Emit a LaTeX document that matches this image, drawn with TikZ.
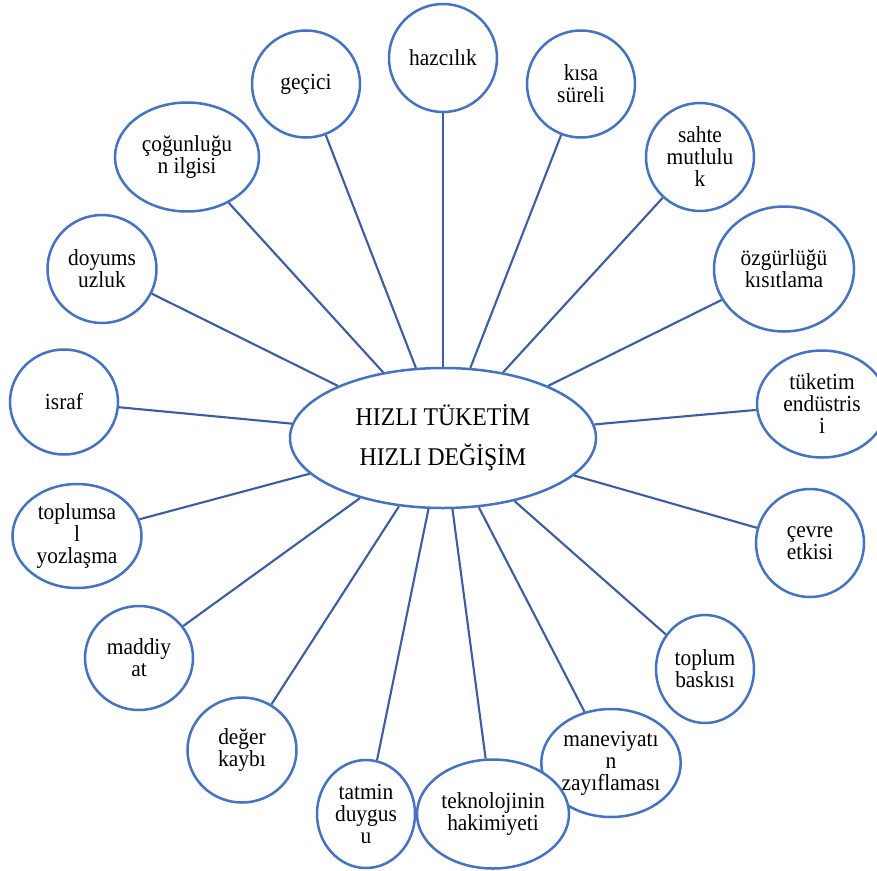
\documentclass[tikz,border=0pt]{standalone}
\usepackage{fontspec}
\setmainfont{Liberation Serif}
\newfontfamily\labelfont[FakeStretch=0.93]{Liberation Serif}
\usetikzlibrary{shapes.geometric}
\definecolor{rim}{HTML}{4472C4}
\definecolor{spoke}{HTML}{3A5DA6}
\tikzset{
  bubble/.style={ellipse, draw=rim, line width=2.5pt, fill=white, inner sep=0pt,
    align=center, font=\labelfont\fontsize{23}{22}\selectfont},
  hub/.style={ellipse, draw=rim, line width=2.5pt, fill=white, inner sep=0pt,
    align=center, font=\labelfont\fontsize{25.5}{40}\selectfont},
  spokeline/.style={draw=spoke, line width=2.1pt}
}
\begin{document}
\begin{tikzpicture}[x=1pt,y=-1pt]
\useasboundingbox (0,0) rectangle (877,870);
\fill[white] (0,0) rectangle (877,870);
\clip (0,0) rectangle (877,870);

% central idea
\node[hub, minimum width=306pt, minimum height=140pt] (c) at (443,438)
  {HIZLI TÜKETİM\\HIZLI DEĞİŞİM};

% surrounding ideas, clockwise from the top
\node[bubble, minimum width=108pt, minimum height=108pt] (haz) at (443,58) {hazcılık};
\node[bubble, minimum width=108pt, minimum height=107pt] (kisa) at (581,84) {kısa\\süreli};
\node[bubble, minimum width=108pt, minimum height=108pt] (sahte) at (700,157) {sahte\\mutlulu\\k};
\node[bubble, minimum width=140pt, minimum height=125pt] (ozg) at (784,269) {özgürlüğü\\kısıtlama};
\node[bubble, minimum width=130pt, minimum height=107pt] (tuk) at (822,404) {tüketim\\endüstris\\i};
\node[bubble, minimum width=108pt, minimum height=108pt] (cevre) at (810,543) {çevre\\etkisi};
\node[bubble, minimum width=98pt, minimum height=108pt] (baski) at (705,669) {toplum\\baskısı};
\node[bubble, minimum width=138pt, minimum height=108pt] (manevi) at (611,763) {maneviyatı\\n\\zayıflaması};
\node[bubble, minimum width=152pt, minimum height=109pt] (tekno) at (493,814) {teknolojinin\\hakimiyeti};
\node[bubble, minimum width=98pt, minimum height=108pt] (tatmin) at (366,814) {tatmin\\duygus\\u};
\node[bubble, minimum width=109pt, minimum height=105pt] (deger) at (242,750) {değer\\kaybı};
\node[bubble, minimum width=108pt, minimum height=104pt] (madde) at (139,658) {maddiy\\at};
\node[bubble, minimum width=129pt, minimum height=104pt] (yoz) at (77,536) {toplumsa\\l\\yozlaşma};
\node[bubble, minimum width=108pt, minimum height=105pt] (israf) at (64,402) {israf};
\node[bubble, minimum width=109pt, minimum height=108pt] (doyum) at (102,269) {doyums\\uzluk};
\node[bubble, minimum width=144pt, minimum height=109pt] (cogun) at (187,157) {çoğunluğu\\n ilgisi};
\node[bubble, minimum width=108pt, minimum height=107pt] (gec) at (306,84) {geçici};

% spokes from the hub to every idea
\foreach \n in {haz,kisa,sahte,ozg,tuk,cevre,baski,manevi,tekno,tatmin,deger,madde,yoz,israf,doyum,cogun,gec}
  \path[spokeline] (c) -- (\n);
\end{tikzpicture}
\end{document}
